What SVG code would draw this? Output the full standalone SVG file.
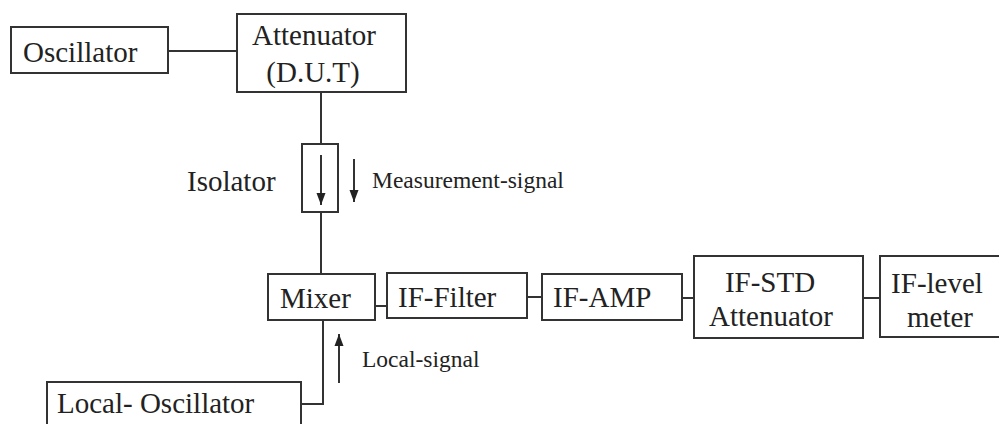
<svg xmlns="http://www.w3.org/2000/svg" width="999" height="424" viewBox="0 0 999 424">
<style>
.box{fill:#fff;stroke:#333;stroke-width:2}
.ln{fill:none;stroke:#333;stroke-width:2}
.t{font-family:'Liberation Serif','Times New Roman','DejaVu Serif',serif;font-size:29px;fill:#222}
.s{font-family:'Liberation Serif','Times New Roman','DejaVu Serif',serif;font-size:23.5px;fill:#222}
</style>
<defs>
<marker id="ah" viewBox="0 0 12 10" refX="12" refY="5" markerWidth="12" markerHeight="10" markerUnits="userSpaceOnUse" orient="auto">
<path d="M0,0.5 L12,5 L0,9.5 Z" fill="#222"/>
</marker>
</defs>
<rect width="999" height="424" fill="#fff"/>
<g id="connectors">
<line class="ln" x1="168" y1="51" x2="237" y2="51"/>
<line class="ln" x1="321" y1="92" x2="321" y2="144"/>
<line class="ln" x1="321" y1="212" x2="321" y2="274"/>
<line class="ln" x1="375" y1="306" x2="387" y2="306"/>
<line class="ln" x1="527" y1="297" x2="542" y2="297"/>
<line class="ln" x1="682" y1="298" x2="694" y2="298"/>
<line class="ln" x1="863" y1="298" x2="880" y2="298"/>
<polyline class="ln" points="301,404 323,404 323,320"/>
<line class="ln" x1="354" y1="159" x2="354" y2="202" marker-end="url(#ah)"/>
<line class="ln" x1="339" y1="383" x2="339" y2="334" marker-end="url(#ah)"/>
</g>
<g id="oscillator">
<rect class="box" x="11" y="27" width="157" height="46"/>
<text class="t" x="23" y="62">Oscillator</text>
</g>
<g id="attenuator">
<rect class="box" x="237" y="14" width="169" height="78"/>
<text class="t" x="314" y="45" text-anchor="middle">Attenuator</text>
<text class="t" x="313" y="82" text-anchor="middle">(D.U.T)</text>
</g>
<g id="isolator">
<rect class="box" x="302" y="144" width="36" height="68"/>
<line class="ln" x1="321" y1="155" x2="321" y2="205" marker-end="url(#ah)"/>
<text class="t" x="187" y="191">Isolator</text>
</g>
<g id="measurement-label">
<text class="s" x="372" y="188">Measurement-signal</text>
</g>
<g id="mixer">
<rect class="box" x="268" y="274" width="107" height="46"/>
<text class="t" x="280" y="308">Mixer</text>
</g>
<g id="if-filter">
<rect class="box" x="387" y="273" width="140" height="45"/>
<text class="t" x="398" y="307">IF-Filter</text>
</g>
<g id="if-amp">
<rect class="box" x="542" y="274" width="140" height="46"/>
<text class="t" x="553" y="307">IF-AMP</text>
</g>
<g id="if-std">
<rect class="box" x="694" y="256" width="169" height="82"/>
<text class="t" x="770" y="292" text-anchor="middle">IF-STD</text>
<text class="t" x="771" y="326" text-anchor="middle">Attenuator</text>
</g>
<g id="if-level">
<rect class="box" x="880" y="256" width="140" height="81"/>
<text class="t" x="937" y="293" text-anchor="middle">IF-level</text>
<text class="t" x="940" y="327" text-anchor="middle">meter</text>
</g>
<g id="local-signal-label">
<text class="s" x="362" y="367">Local-signal</text>
</g>
<g id="local-oscillator">
<rect class="box" x="47" y="382" width="254" height="60"/>
<text class="t" x="57" y="413">Local- Oscillator</text>
</g>
</svg>
